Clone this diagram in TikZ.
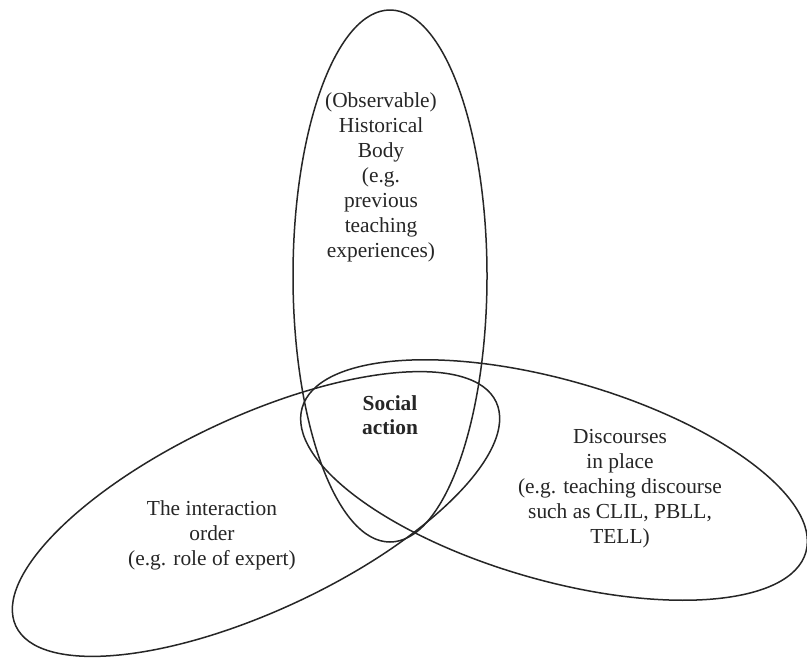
\documentclass[tikz,border=0pt]{standalone}
\usepackage{fontspec}
\setmainfont{Liberation Serif}
\usetikzlibrary{shapes.geometric}
\begin{document}
\begin{tikzpicture}[x=0.5pt,y=-0.5pt,
  ring/.style={draw=black!85, line width=0.75pt, ellipse, inner sep=0pt, outer sep=0pt},
  lbl/.style={align=center, inner sep=0pt, font=\fontsize{10.7pt}{12.5pt}\selectfont, text=black!85}]
\fill[white] (0,0) rectangle (807,659);
\useasboundingbox (0,0) rectangle (807,659);
\node[ring, minimum width=97pt, minimum height=266pt] (hist) at (390,276) {};
\node[ring, minimum width=265pt, minimum height=97pt, rotate=25] (inter) at (256,514) {};
\node[ring, minimum width=262pt, minimum height=100pt, rotate=-16] (disc) at (554,480) {};
\node[lbl] (histt) at (381,177) {(Observable)\\Historical\\Body\\(e.g.\\previous\\teaching\\experiences)};
\node[lbl, font=\fontsize{10.7pt}{12pt}\selectfont\bfseries] (soc) at (390,415) {Social\\action};
\node[lbl] (intert) at (212,535) {The interaction\\order\\(e.g. role of expert)};
\node[lbl] (disct) at (620,489) {Discourses\\in place\\(e.g. teaching discourse\\such as CLIL, PBLL,\\TELL)};
\end{tikzpicture}
\end{document}
